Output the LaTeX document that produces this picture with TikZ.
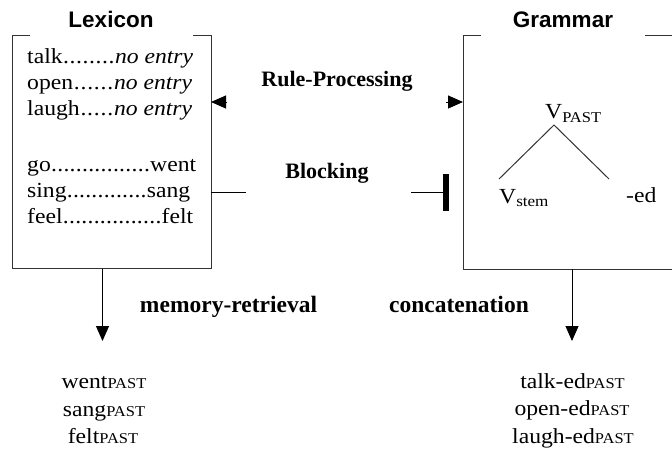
\documentclass[tikz,border=0pt]{standalone}
\usepackage{fontspec}
\setmainfont{Liberation Serif}[FakeStretch=1.1]
\newfontfamily\labelfont{Liberation Serif}
\newfontfamily\headfont{Liberation Sans}
\usetikzlibrary{arrows.meta}

% font size shorthand
\newcommand\fsz[1]{\fontsize{#1}{#1}\selectfont}
% small PAST marker on the baseline
\newcommand\pastmark{{\fsz{15}PAST}}
% lexicon line: fixed width, dotted leaders between the two parts
\newcommand\lexline[3]{\makebox[#1][l]{#2\xleaders\hbox{.}\hfill#3}}

\tikzset{
  boxline/.style={draw=black!80, line width=1pt},
  tri/.style={line width=1pt, -{Triangle[length=15pt,width=13pt]}},
  plain/.style={line width=1pt},
  treeline/.style={draw=black!80, line width=1pt},
  lexentry/.style={anchor=base west, inner sep=0pt, font=\fsz{21.5}},
  outword/.style={anchor=base, inner sep=0pt, font=\fsz{21.5}},
  treeword/.style={anchor=base west, inner sep=0pt, font=\fsz{21.5}},
  procl/.style={anchor=base, inner sep=0pt, font=\labelfont\bfseries\fsz{#1}},
  procl/.default=22,
  boxtitle/.style={anchor=base, inner sep=0pt, font=\headfont\bfseries\fsz{22.5}},
  frame/.style={inner sep=0pt, outer sep=0pt},
}

\begin{document}
\begin{tikzpicture}[x=1pt, y=-1pt]
\useasboundingbox (0,0) rectangle (672,450);

% ---- the two modules ----
\node[frame, minimum width=199pt, minimum height=233.5pt] (lex) at (111.5,151.75) {};
\node[frame, minimum width=227pt, minimum height=234pt] (gram) at (576.5,152) {};

\draw[boxline] ([xshift=18pt]lex.north west) -- (lex.north west) -- (lex.south west)
  -- (lex.south east) -- (lex.north east) -- ([xshift=-18pt]lex.north east);
\draw[boxline] ([xshift=18pt]gram.north west) -- (gram.north west) -- (gram.south west)
  -- (gram.south east) -- (gram.north east) -- ([xshift=-45pt]gram.north east);

\node[boxtitle] (lexT) at (111,27) {Lexicon};
\node[boxtitle] (gramT) at (563,27) {Grammar};

% ---- lexicon entries ----
\node[lexentry] (e1) at (27,63.5)  {\lexline{166pt}{talk}{\textit{no entry}}};
\node[lexentry] (e2) at (27,89.5)  {\lexline{165pt}{open}{\textit{no entry}}};
\node[lexentry] (e3) at (27,115.5) {\lexline{165pt}{laugh}{\textit{no entry}}};
\node[lexentry] (e4) at (27,171.5) {\lexline{169pt}{go}{went}};
\node[lexentry] (e5) at (27,197.5) {\lexline{163pt}{sing}{sang}};
\node[lexentry] (e6) at (27,223.5) {\lexline{166pt}{feel}{felt}};

% ---- grammar: past-tense rule tree ----
\node[treeword] (vpast) at (545,118) {V\raisebox{-4pt}{\fsz{15}PAST}};
\node[treeword] (vstem) at (499,203) {V\raisebox{-3pt}{\fsz{15.5}stem}};
\node[treeword] (ed) at (626,202) {-ed};
\coordinate (apex) at (554,125);
\coordinate (legL) at (499,179);
\coordinate (legR) at (609,179);
\draw[treeline] (legL) -- (apex) -- (legR);

% ---- rule processing ----
\node[procl] (rp) at (337,86) {Rule-Processing};
\coordinate (rpL) at (227,102);
\coordinate (rpR) at (446,102);
\draw[tri] (rpL) -- (lex.east |- rpL);
\draw[tri] (rpR) -- (gram.west |- rpR);

% ---- blocking ----
\node[procl] (bl) at (327,178) {Blocking};
\coordinate (blL) at (246,192);
\coordinate (blR) at (411,192);
\coordinate (blBar) at (446,192);
\draw[plain] (lex.east |- blL) -- (blL);
\draw[plain] (blR) -- (blBar);
\fill ([xshift=-3.25pt, yshift=18.5pt]blBar) rectangle ([xshift=3.25pt, yshift=-18.5pt]blBar);

% ---- outputs ----
\coordinate (memOut) at (102.5,341);
\coordinate (catOut) at (572,341);
\draw[tri] (lex.south -| memOut) -- (memOut);
\draw[tri] (gram.south -| catOut) -- (catOut);
\node[procl=23.5] (mr) at (228.5,312.5) {memory-retrieval};
\node[procl=23.5] (cc) at (459,312.5) {concatenation};

\node[outword] (o1) at (104,388) {went\pastmark};
\node[outword] (o2) at (104,416) {sang\pastmark};
\node[outword] (o3) at (103,443) {felt\pastmark};
\node[outword] (o4) at (572.5,388) {talk-ed\pastmark};
\node[outword] (o5) at (572,415) {open-ed\pastmark};
\node[outword] (o6) at (573,443) {laugh-ed\pastmark};
\end{tikzpicture}
\end{document}
